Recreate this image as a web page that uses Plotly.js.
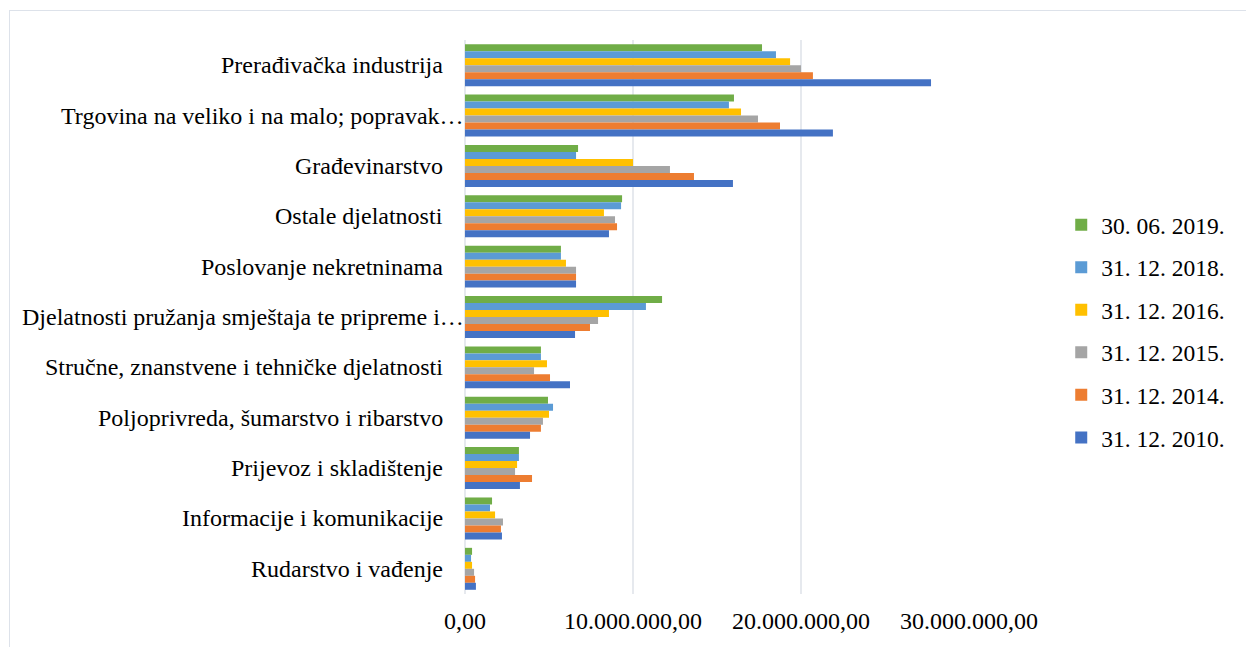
<!DOCTYPE html>
<html>
<head>
<meta charset="utf-8">
<script src="https://cdn.plot.ly/plotly-3.0.1.min.js"></script>
<style>
  html, body { margin: 0; padding: 0; background: #fff; }
  #frame { position: absolute; left: 9px; top: 10px; width: 1300px; height: 700px; border: 1.5px solid #dde2ea; box-sizing: border-box; pointer-events: none; z-index: 5; }
  #chart { position: absolute; left: 0; top: 0; width: 1246px; height: 647px; }
</style>
</head>
<body>
<div id="chart"></div>
<div id="frame"></div>
<script>
// Categories, top to bottom
const categories = [
  "Prerađivačka industrija",
  "Trgovina na veliko i na malo; popravak…",
  "Građevinarstvo",
  "Ostale djelatnosti",
  "Poslovanje nekretninama",
  "Djelatnosti pružanja smještaja te pripreme i…",
  "Stručne, znanstvene i tehničke djelatnosti",
  "Poljoprivreda, šumarstvo i ribarstvo",
  "Prijevoz i skladištenje",
  "Informacije i komunikacije",
  "Rudarstvo i vađenje"
];

const seriesNames = ["30. 06. 2019.", "31. 12. 2018.", "31. 12. 2016.", "31. 12. 2015.", "31. 12. 2014.", "31. 12. 2010."];

const v2019 = [17680000, 16010000, 6730000, 9350000, 5710000, 11730000, 4520000, 4940000, 3210000, 1610000, 420000];
const v2018 = [18510000, 15710000, 6610000, 9290000, 5710000, 10770000, 4520000, 5240000, 3210000, 1490000, 360000];
const v2016 = [19350000, 16430000, 10000000, 8270000, 6010000, 8570000, 4880000, 5000000, 3100000, 1790000, 420000];
const v2015 = [20000000, 17440000, 12200000, 8930000, 6610000, 7920000, 4110000, 4640000, 2980000, 2260000, 540000];
const v2014 = [20710000, 18750000, 13630000, 9050000, 6610000, 7440000, 5060000, 4520000, 3990000, 2140000, 600000];
const v2010 = [27740000, 21900000, 15950000, 8570000, 6610000, 6550000, 6250000, 3870000, 3270000, 2200000, 650000];

const seriesValues = [v2019, v2018, v2016, v2015, v2014, v2010];
const seriesColors = ["#70AD47", "#5B9BD5", "#FFC000", "#A5A5A5", "#ED7D31", "#4472C4"];

const FONT = "'Liberation Serif', 'Times New Roman', 'DejaVu Serif', serif";

const traces = seriesValues.map((vals, i) => ({
  type: "bar",
  orientation: "h",
  name: seriesNames[i],
  x: vals,
  y: categories,
  legendgroup: "g" + i,
  marker: { color: seriesColors[i], line: { width: 0 } },
  hoverinfo: "x+y+name"
}));

// category labels as annotations (truncated labels hang their ellipsis to the right, as in the original)
const annotations = categories.map(c => ({
  xref: "paper",
  yref: "y",
  x: 0,
  y: c,
  text: c,
  showarrow: false,
  xanchor: "right",
  yanchor: "middle",
  xshift: c.endsWith("…") ? 1 : -20,
  font: { family: FONT, size: 24, color: "#000000" }
}));

const layout = {
  width: 1246,
  height: 647,
  margin: { l: 465, r: 277, t: 40, b: 53, pad: 0 },
  paper_bgcolor: "#ffffff",
  plot_bgcolor: "#ffffff",
  barmode: "group",
  bargap: 0.167,
  bargroupgap: 0,
  separators: ",.",
  font: { family: FONT, size: 24, color: "#000000" },
  xaxis: {
    range: [0, 30000000],
    tickvals: [0, 10000000, 20000000, 30000000],
    tickformat: ",.2f",
    showgrid: true,
    gridcolor: "#e6e9ee",
    gridwidth: 2,
    zeroline: true,
    zerolinecolor: "#e6e9ee",
    zerolinewidth: 2,
    showline: false,
    ticks: "",
    ticklabelstandoff: 10,
    tickfont: { family: FONT, size: 24, color: "#000000" },
    fixedrange: true
  },
  yaxis: {
    type: "category",
    autorange: "reversed",
    showgrid: false,
    zeroline: false,
    showline: false,
    ticks: "",
    showticklabels: false,
    fixedrange: true
  },
  annotations: annotations,
  showlegend: true,
  legend: {
    x: 1.183,
    xanchor: "left",
    y: 0.706,
    yanchor: "top",
    traceorder: "grouped",
    tracegroupgap: 9,
    font: { family: FONT, size: 23.5, color: "#000000" },
    bgcolor: "rgba(0,0,0,0)"
  }
};

Plotly.newPlot("chart", traces, layout, { displayModeBar: false, staticPlot: true });
</script>
</body>
</html>
